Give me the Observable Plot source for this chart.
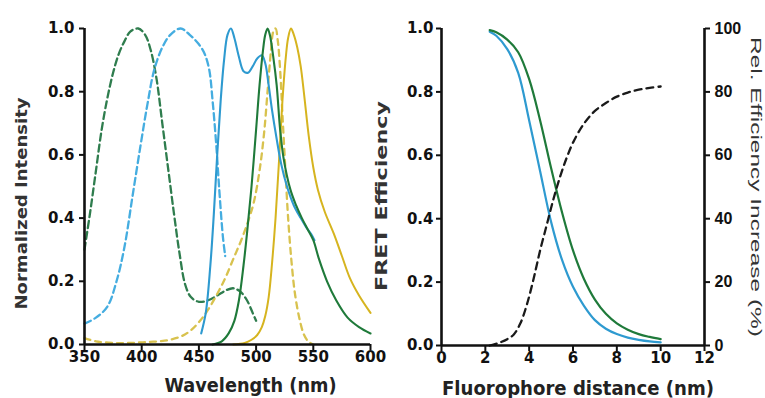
<!DOCTYPE html>
<html><head><meta charset="utf-8">
<script src="https://cdn.jsdelivr.net/npm/d3@7"></script>
<script src="https://cdn.jsdelivr.net/npm/@observablehq/plot@0.6"></script>
<style>
html,body{margin:0;padding:0;background:#fff;}
#wrap{position:relative;width:765px;height:398px;overflow:hidden;background:#fff;}
#left{position:absolute;left:0;top:0;}
#right{position:absolute;left:378px;top:0;}
svg{overflow:visible;}
</style></head><body>
<div id="wrap"><div id="left"></div><div id="right"></div></div>
<script>
// ---------- Data ----------
const wavelengthTicks = [350, 400, 450, 500, 550, 600];
const intensityTicks = [0, 0.2, 0.4, 0.6, 0.8, 1.0];
const distanceTicks = [0, 2, 4, 6, 8, 10, 12];
const efficiencyTicks = [0, 0.2, 0.4, 0.6, 0.8, 1.0];
const increaseTicks = [0, 20, 40, 60, 80, 100];

// [wavelength nm, normalized intensity]
const greenExcitation = [[350,0.30],[355,0.42],[360,0.55],[365,0.68],[370,0.78],[375,0.86],[380,0.92],[385,0.96],[390,0.99],[397,1.0],[403,0.98],[408,0.93],[413,0.84],[418,0.70],[423,0.56],[428,0.42],[433,0.29],[438,0.19],[443,0.15],[450,0.135],[458,0.14],[466,0.155],[474,0.172],[480,0.178],[486,0.168],[492,0.14],[497,0.10],[500,0.075]];
const blueExcitation = [[350,0.066],[360,0.085],[370,0.12],[378,0.20],[385,0.31],[392,0.47],[399,0.63],[405,0.76],[411,0.87],[418,0.94],[425,0.98],[434,1.0],[442,0.98],[450,0.95],[455,0.92],[459,0.87],[462,0.77],[465,0.64],[468,0.48],[471,0.34],[473,0.28]];
const blueEmission = [[452,0.035],[456,0.10],[460,0.25],[463,0.41],[466,0.60],[469,0.77],[472,0.90],[475,0.98],[478,1.0],[481,0.97],[485,0.91],[489,0.865],[493,0.86],[497,0.88],[501,0.905],[505,0.915],[508,0.89],[511,0.82],[514,0.74],[518,0.65],[522,0.57],[527,0.50],[533,0.44],[539,0.40],[544,0.37],[548,0.35],[551,0.33]];
const greenEmission = [[462,0.0],[470,0.01],[476,0.035],[481,0.075],[485,0.14],[489,0.25],[492,0.35],[496,0.50],[500,0.68],[503,0.82],[506,0.93],[508,0.98],[510,1.0],[512,0.98],[515,0.91],[518,0.82],[521,0.68],[524,0.59],[530,0.49],[535,0.44],[540,0.40],[545,0.365],[550,0.33],[555,0.27],[562,0.20],[570,0.14],[580,0.085],[590,0.055],[600,0.035]];
const yellowEmission = [[480,0.0],[490,0.005],[496,0.015],[501,0.03],[505,0.055],[508,0.09],[511,0.15],[514,0.26],[517,0.40],[520,0.58],[523,0.77],[526,0.91],[528,0.97],[530.5,1.0],[533,0.98],[536,0.94],[539,0.88],[542,0.79],[546,0.66],[550,0.56],[554,0.49],[560,0.42],[568,0.35],[575,0.28],[582,0.21],[590,0.155],[600,0.10]];
const yellowExcitation = [[350,0.02],[360,0.01],[375,0.005],[390,0.005],[405,0.008],[420,0.012],[434,0.025],[443,0.045],[451,0.075],[458,0.11],[466,0.16],[473,0.21],[480,0.27],[487,0.33],[493,0.39],[498,0.45],[503,0.55],[507,0.67],[510,0.80],[513,0.93],[515,0.99],[517,1.0],[519,0.96],[521,0.87],[523,0.73],[525.5,0.56],[528,0.40],[531,0.26],[534,0.16],[538,0.08],[542,0.03],[546,0.008],[550,0.0]];

// [distance nm, FRET efficiency]
const blueFret = [[2.2,0.99],[2.5,0.977],[3,0.935],[3.5,0.86],[4,0.71],[4.5,0.55],[5,0.39],[5.5,0.27],[6,0.185],[6.5,0.125],[7,0.08],[7.5,0.053],[8,0.036],[8.5,0.025],[9,0.018],[9.5,0.013],[10,0.01]];
const greenFret = [[2.2,0.995],[2.5,0.988],[3,0.965],[3.5,0.925],[4,0.84],[4.5,0.71],[5,0.56],[5.5,0.42],[6,0.30],[6.5,0.21],[7,0.145],[7.5,0.10],[8,0.07],[8.5,0.05],[9,0.036],[9.5,0.027],[10,0.02]];
// [distance nm, relative efficiency increase %]
const relIncrease = [[2.2,0],[2.6,0.8],[3,2],[3.3,3.5],[3.6,7],[3.9,13],[4.2,21],[4.5,30],[4.8,38],[5.1,46],[5.4,53],[5.7,59],[6,64],[6.5,70],[7,74],[7.5,76.5],[8,78.5],[8.5,79.8],[9,80.7],[9.5,81.3],[10,81.7]];

const titles = {
  wavelength: "Wavelength (nm)",
  intensity: "Normalized Intensity",
  distance: "Fluorophore distance (nm)",
  fret: "FRET Efficiency",
  increase: "Rel. Efficiency Increase (%)"
};

// ---------- Styles ----------
const tickFont = {fontFamily: "DejaVu Sans", fontWeight: "bold", fontSize: 15};
const titleFont = {fontFamily: "DejaVu Sans", fontWeight: "bold", textAnchor: "middle", lineAnchor: "middle"};
const xy = {x: d => d[0], y: d => d[1], curve: "catmull-rom"};
const titleLengths = {};
titleLengths[titles.wavelength] = 172;
titleLengths[titles.intensity] = 212;
titleLengths[titles.distance] = 272;
titleLengths[titles.fret] = 190;
titleLengths[titles.increase] = 300;

function fitTitles(svg) {
  d3.select(svg).selectAll("text").each(function() {
    const len = titleLengths[this.textContent];
    if (len) { this.setAttribute("textLength", len); this.setAttribute("lengthAdjust", "spacingAndGlyphs"); }
  });
  return svg;
}

const left = Plot.plot({
  width: 378, height: 398,
  marginLeft: 84, marginRight: 8, marginTop: 28, marginBottom: 54,
  style: {background: "transparent", overflow: "visible", color: "#111"},
  x: {domain: [350, 600]},
  y: {domain: [0, 1]},
  marks: [
    Plot.line(greenExcitation, {...xy, stroke: "#2f7d4e", strokeWidth: 2.3, strokeDasharray: "7,4"}),
    Plot.line(blueExcitation, {...xy, stroke: "#45ade0", strokeWidth: 2.3, strokeDasharray: "7,4"}),
    Plot.line(yellowExcitation, {...xy, stroke: "#d8c24e", strokeWidth: 2.3, strokeDasharray: "6,5"}),
    Plot.line(yellowEmission, {...xy, stroke: "#d6b41f", strokeWidth: 2}),
    Plot.line(blueEmission, {...xy, stroke: "#2e9ad0", strokeWidth: 2.1}),
    Plot.line(greenEmission, {...xy, stroke: "#1f7a3a", strokeWidth: 2.1}),
    Plot.ruleY([0], {strokeWidth: 2.6, stroke: "#111"}),
    Plot.ruleX([350], {strokeWidth: 2.6, stroke: "#111"}),
    Plot.axisX({ticks: wavelengthTicks, tickSize: 6, tickPadding: 1, strokeWidth: 2, label: null, ...tickFont}),
    Plot.axisY({ticks: intensityTicks, tickFormat: d3.format(".1f"), tickSize: 5, tickPadding: 5, strokeWidth: 2, label: null, ...tickFont}),
    Plot.text([titles.wavelength], {text: d => d, frameAnchor: "bottom", dx: 23, dy: 41, fontSize: 20, ...titleFont, fill: "#222"}),
    Plot.text([titles.intensity], {text: d => d, frameAnchor: "left", rotate: -90, dx: -63, dy: 17, fontSize: 16, ...titleFont, fill: "#333"})
  ]
});

const right = Plot.plot({
  width: 387, height: 398,
  marginLeft: 63, marginRight: 61, marginTop: 28, marginBottom: 53,
  style: {background: "transparent", overflow: "visible", color: "#111"},
  x: {domain: [0, 12]},
  y: {domain: [0, 1]},
  marks: [
    Plot.line(blueFret, {...xy, stroke: "#2e9ad0", strokeWidth: 2.2}),
    Plot.line(greenFret, {...xy, stroke: "#1f7a3a", strokeWidth: 2.2}),
    Plot.line(relIncrease, {x: d => d[0], y: d => d[1] / 100, curve: "catmull-rom", stroke: "#1a1a1a", strokeWidth: 2.3, strokeDasharray: "7,5"}),
    Plot.ruleY([0], {strokeWidth: 2.6, stroke: "#111"}),
    Plot.ruleX([0, 12], {strokeWidth: 2.6, stroke: "#111"}),
    Plot.axisX({ticks: distanceTicks, tickSize: 6, tickPadding: 1, strokeWidth: 2, label: null, ...tickFont}),
    Plot.axisY({ticks: efficiencyTicks, tickFormat: d3.format(".1f"), tickSize: 5, tickPadding: 3, strokeWidth: 2, label: null, ...tickFont}),
    Plot.axisY({anchor: "right", ticks: increaseTicks.map(v => v / 100), tickFormat: d => Math.round(d * 100), tickSize: 5, tickPadding: 5, strokeWidth: 2, label: null, fontFamily: "Liberation Sans", fontWeight: "bold", fontSize: 16}),
    Plot.text([titles.distance], {text: d => d, frameAnchor: "bottom", dx: 5, dy: 43, fontSize: 19, ...titleFont, fill: "#222"}),
    Plot.text([titles.fret], {text: d => d, frameAnchor: "left", rotate: -90, dx: -59.5, dy: 9, fontSize: 15, ...titleFont, fill: "#333"}),
    Plot.text([titles.increase], {text: d => d, frameAnchor: "right", rotate: 90, dx: 51, dy: 0, fontSize: 15, fontFamily: "Liberation Sans", fontWeight: "normal", textAnchor: "middle", lineAnchor: "middle", fill: "#333"})
  ]
});

document.getElementById("left").appendChild(fitTitles(left));
document.getElementById("right").appendChild(fitTitles(right));
</script>
</body></html>
